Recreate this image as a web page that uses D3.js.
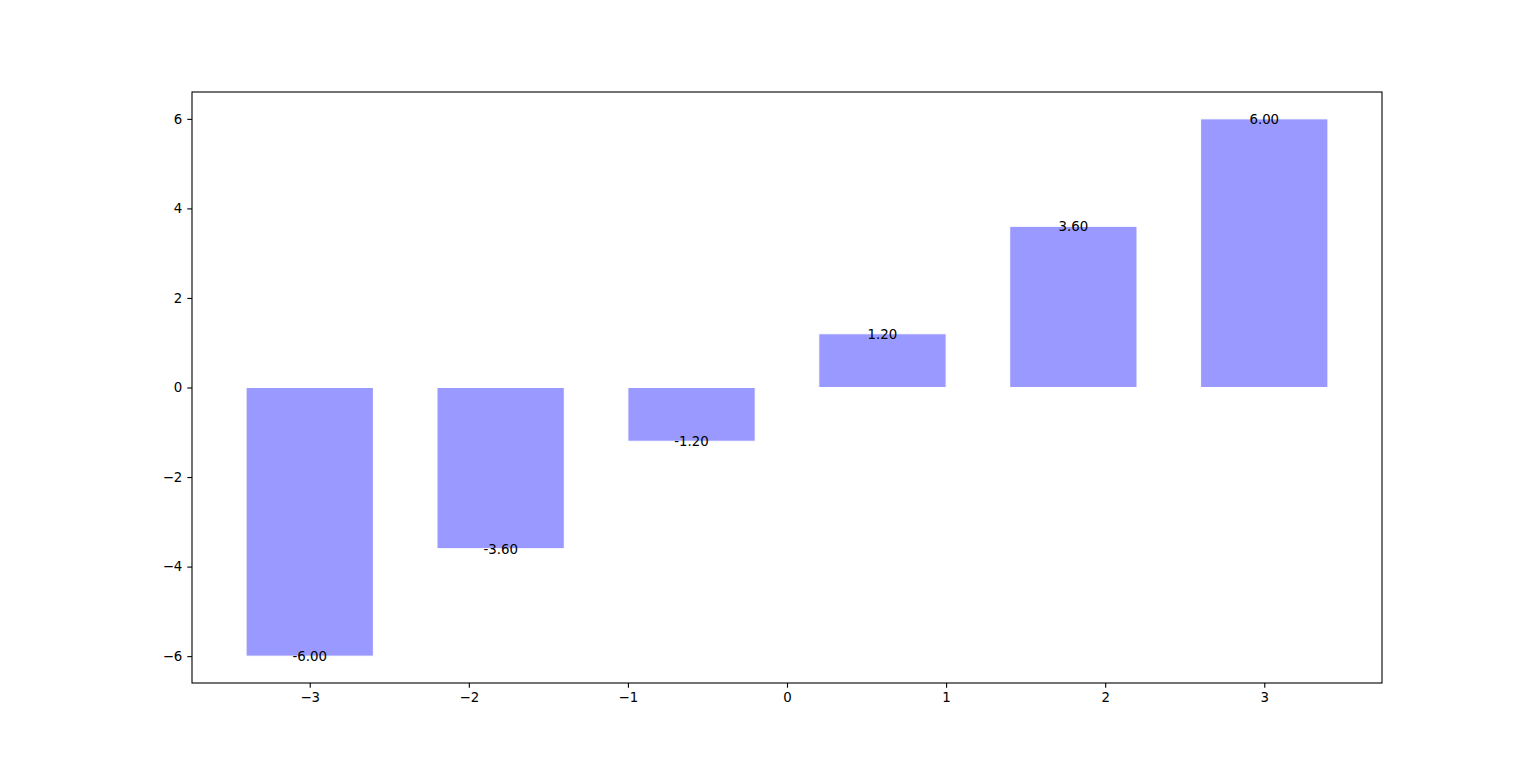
<!DOCTYPE html>
<html>
<head>
<meta charset="utf-8">
<script src="https://cdn.jsdelivr.net/npm/d3@7"></script>
<style>
  body { margin: 0; background: #fff; }
  svg text { font-family: "DejaVu Sans", sans-serif; font-size: 13.33px; fill: #000; }
</style>
</head>
<body>
<svg id="chart" width="1536" height="767"></svg>
<script>
// data
const xs = [-3, -1.8, -0.6, 0.6, 1.8, 3];
const ys = [-6, -3.6, -1.2, 1.2, 3.6, 6];
const xTicks = [-3, -2, -1, 0, 1, 2, 3];
const yTicks = [-6, -4, -2, 0, 2, 4, 6];
const barWidth = 0.8;

const svg = d3.select("#chart");
const plotLeft = 192, plotRight = 1382, plotTop = 92, plotBottom = 683;

const x = d3.scaleLinear().domain([-3.74, 3.74]).range([plotLeft, plotRight]);
const y = d3.scaleLinear().domain([-6.6, 6.6]).range([plotBottom, plotTop]);

const fmtTick = d => d < 0 ? "\u2212" + Math.abs(d) : String(d);

// bars
svg.selectAll(".bar")
  .data(xs)
  .enter()
  .append("rect")
  .attr("class", "bar")
  .attr("x", (d) => x(d - barWidth / 2))
  .attr("width", (d) => x(d + barWidth / 2) - x(d - barWidth / 2))
  .attr("y", (d, i) => y(Math.max(0, ys[i])))
  .attr("height", (d, i) => Math.abs(y(ys[i]) - y(0)))
  .style("fill", "#9999ff")
  .style("stroke", "#fff")
  .style("stroke-width", 1);

// value labels
svg.selectAll(".lbl")
  .data(xs)
  .enter()
  .append("text")
  .attr("class", "lbl")
  .attr("x", d => x(d))
  .attr("y", (d, i) => y(ys[i]))
  .attr("dy", "0.38em")
  .attr("text-anchor", "middle")
  .text((d, i) => ys[i].toFixed(2));

// axes
const xAxis = d3.axisBottom(x).tickValues(xTicks).tickFormat(fmtTick).tickSize(4.7).tickPadding(5);
const yAxis = d3.axisLeft(y).tickValues(yTicks).tickFormat(fmtTick).tickSize(4.7).tickPadding(5);

svg.append("g").attr("transform", `translate(0,${plotBottom})`).call(xAxis)
  .call(g => g.select(".domain").remove());
svg.append("g").attr("transform", `translate(${plotLeft},0)`).call(yAxis)
  .call(g => g.select(".domain").remove());

svg.selectAll(".tick text").style("font-family", "DejaVu Sans").style("font-size", "13.33px");
svg.selectAll(".tick line").style("stroke", "#000").style("stroke-width", 1.1);

// frame
svg.append("rect")
  .attr("x", plotLeft).attr("y", plotTop)
  .attr("width", plotRight - plotLeft).attr("height", plotBottom - plotTop)
  .style("fill", "none").style("stroke", "#000").style("stroke-width", 1.1);
</script>
</body>
</html>
